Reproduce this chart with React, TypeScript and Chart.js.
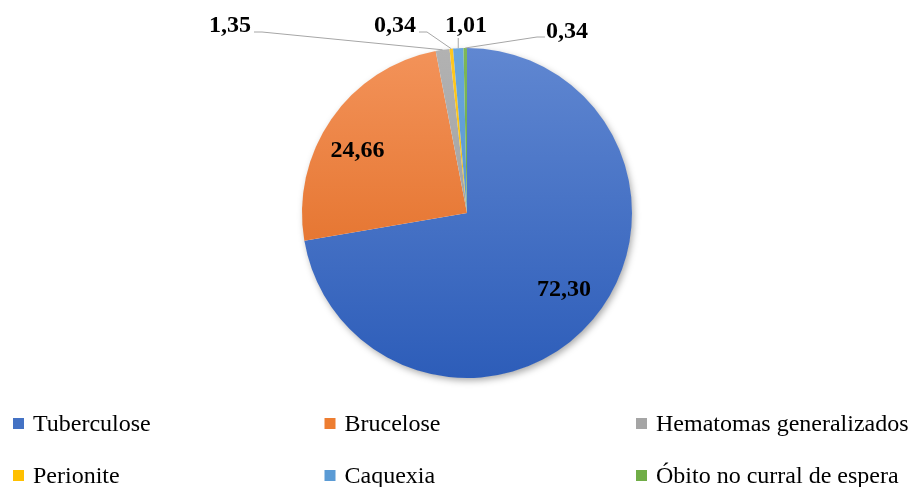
import React, { useEffect, useRef } from "react";
import { Chart, registerables } from "chart.js";

Chart.register(...registerables);

const categories = [
  "Tuberculose",
  "Brucelose",
  "Hematomas generalizados",
  "Perionite",
  "Caquexia",
  "Óbito no curral de espera",
];
const values = [72.3, 24.66, 1.35, 0.34, 1.01, 0.34];

const baseColors = ["#4472C4", "#ED7D31", "#A5A5A5", "#FFC000", "#5B9BD5", "#70AD47"];
const topColors = ["#6087D1", "#F3935A", "#B2B2B2", "#FFC81F", "#6AA6DC", "#7DB857"];
const bottomColors = ["#2D5DB9", "#DD6317", "#969696", "#F0B400", "#4A8BC8", "#5F9C38"];

// label layout: inside labels by angle shift (deg) + radius fraction; outside labels by offset from centre
const labelLayout: any[] = [
  { inside: true, shift: -1.7, r: 0.75 },
  { inside: true, shift: -5.2, r: 0.763 },
  { dx: -237, dy: -187 },
  { dx: -72, dy: -187 },
  { dx: -1, dy: -187 },
  { dx: 100, dy: -181 },
];

const SERIF = '"Liberation Serif", "Times New Roman", serif';

const fmt = (v: number) => v.toFixed(2).replace(".", ",");

const piePlugin = {
  id: "pieExtras",
  beforeDatasetsDraw(chart: any) {
    const meta = chart.getDatasetMeta(0);
    const arc = meta.data[0];
    if (!arc) return;
    const { x, y, outerRadius } = arc.getProps(["x", "y", "outerRadius"], true);
    const ctx = chart.ctx;
    ctx.save();
    ctx.shadowColor = "rgba(0,0,0,0.35)";
    ctx.shadowBlur = 7;
    ctx.shadowOffsetX = 2;
    ctx.shadowOffsetY = 3;
    ctx.fillStyle = "#ffffff";
    ctx.beginPath();
    ctx.arc(x, y, outerRadius - 0.5, 0, Math.PI * 2);
    ctx.fill();
    ctx.restore();
  },
  afterDatasetsDraw(chart: any) {
    const ctx = chart.ctx;
    const meta = chart.getDatasetMeta(0);
    ctx.save();
    ctx.font = `bold 24px ${SERIF}`;
    ctx.fillStyle = "#000";
    ctx.textAlign = "center";
    ctx.textBaseline = "middle";
    meta.data.forEach((arc: any, i: number) => {
      const { x, y, startAngle, endAngle, outerRadius } = arc.getProps(
        ["x", "y", "startAngle", "endAngle", "outerRadius"],
        true
      );
      const mid = (startAngle + endAngle) / 2;
      const text = fmt(values[i]);
      const L = labelLayout[i];
      if (L.inside) {
        const a = mid + (L.shift * Math.PI) / 180;
        const lx = x + Math.cos(a) * outerRadius * L.r;
        const ly = y + Math.sin(a) * outerRadius * L.r;
        ctx.fillText(text, lx, ly);
        return;
      }
      const cx = x + L.dx;
      const cy = y + L.dy;
      ctx.fillText(text, cx, cy);
      const w = ctx.measureText(text).width;
      const left = cx - w / 2;
      const right = cx + w / 2;
      const ex = x + Math.cos(mid) * outerRadius;
      const ey = y + Math.sin(mid) * outerRadius;
      ctx.strokeStyle = "#A6A6A6";
      ctx.lineWidth = 1;
      ctx.beginPath();
      if (ex >= left + 4 && ex <= right - 4) {
        ctx.moveTo(ex, cy + 12);
        ctx.lineTo(ex, ey);
      } else if (ex > right) {
        ctx.moveTo(right + 3, cy + 6);
        ctx.lineTo(right + 11, cy + 6);
        ctx.lineTo(ex, ey);
      } else {
        ctx.moveTo(left - 1, cy + 5);
        ctx.lineTo(left - 9, cy + 5);
        ctx.lineTo(ex, ey);
      }
      ctx.stroke();
    });
    ctx.restore();
  },
  afterDraw(chart: any) {
    const ctx = chart.ctx;
    ctx.save();
    ctx.font = `24px ${SERIF}`;
    ctx.textAlign = "left";
    ctx.textBaseline = "alphabetic";
    const legendLeft = 13;
    const colWidth = 311.5;
    const rowBase = [431, 483];
    categories.forEach((name, i) => {
      const col = i % 3;
      const row = Math.floor(i / 3);
      const mx = legendLeft + col * colWidth;
      const by = rowBase[row];
      ctx.fillStyle = baseColors[i];
      ctx.fillRect(mx, by - 13, 11, 11);
      ctx.fillStyle = "#000";
      ctx.fillText(name, mx + 20, by);
    });
    ctx.restore();
  },
};

export default function App() {
  const ref = useRef<HTMLCanvasElement>(null);
  useEffect(() => {
    document.body.style.margin = "0";
    const canvas = ref.current!;
    const chart = new Chart(canvas, {
      type: "pie",
      data: {
        labels: categories,
        datasets: [
          {
            data: values,
            borderWidth: 0,
            backgroundColor: (c: any) => {
              const ch = c.chart;
              const area = ch.chartArea;
              const i = c.dataIndex;
              if (!area || i === undefined) return baseColors[i ?? 0];
              const g = ch.ctx.createLinearGradient(0, area.top, 0, area.bottom);
              g.addColorStop(0, topColors[i]);
              g.addColorStop(1, bottomColors[i]);
              return g;
            },
          },
        ],
      },
      options: {
        responsive: false,
        animation: false,
        layout: { padding: { left: 302, right: 283, top: 48, bottom: 109 } },
        plugins: {
          legend: { display: false },
          tooltip: { enabled: false },
        },
      },
      plugins: [piePlugin],
    } as any);
    return () => chart.destroy();
  }, []);
  return (
    <div style={{ width: 915, height: 487, background: "#fff" }}>
      <canvas ref={ref} width={915} height={487} style={{ display: "block" }} />
    </div>
  );
}
